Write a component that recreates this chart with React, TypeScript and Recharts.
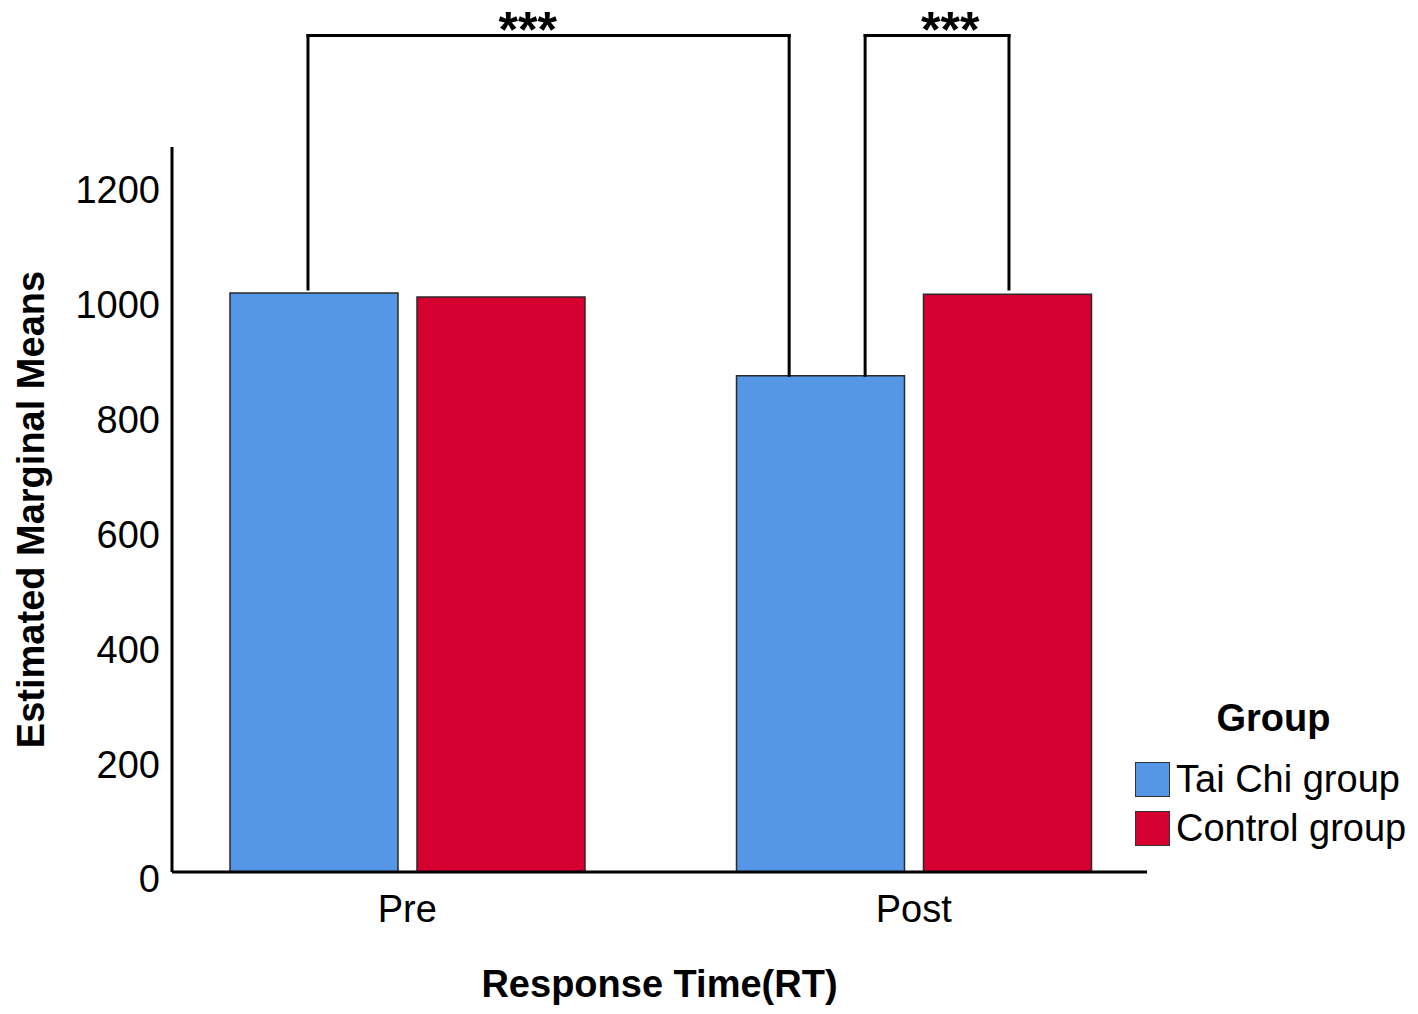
import { Bar, BarChart, Label, Legend, ReferenceDot, ReferenceLine, XAxis, YAxis } from "recharts";

const FONT = '"Liberation Sans", Arial, sans-serif';

const TIMES = ["Pre", "Post"];
const TAI_CHI = [1007, 863];
const CONTROL = [1000, 1005];
const Y_TICKS = [0, 200, 400, 600, 800, 1000, 1200];
const Y_MAX = 1261;

const SERIES = [
  { key: "taiChi", name: "Tai Chi group", color: "#5596E6" },
  { key: "control", name: "Control group", color: "#D5002F" },
];

// significance brackets; x runs 0..1 across both time points
const BRACKET_LEFT = [0.152, 0.702];
const BRACKET_RIGHT = [0.627, 0.844];
const BRACKET_LEFT_END = [1014, 864];
const BRACKET_RIGHT_END = [864, 1014];
const BRACKET_TOP = 1455;
const STAR_X = [0.369, 0.786];
const STARS = "***";

const data = TIMES.map((time, i) => ({ time, taiChi: TAI_CHI[i], control: CONTROL[i] }));

function GroupLegend({ payload }: any) {
  const items = [...(payload || [])].sort(
    (a: any, b: any) =>
      SERIES.findIndex((s) => s.name === a.value) - SERIES.findIndex((s) => s.name === b.value)
  );
  return (
    <div style={{ fontFamily: FONT, color: "#000" }}>
      <div style={{ fontWeight: "bold", fontSize: 38, lineHeight: "40px", textAlign: "center", paddingRight: 6 }}>
        Group
      </div>
      <div style={{ marginTop: 17 }}>
        {items.map((entry: any) => (
          <div key={entry.value} style={{ display: "flex", alignItems: "center", height: 49 }}>
            <span
              style={{
                display: "inline-block",
                width: 35,
                height: 35,
                boxSizing: "border-box",
                background: entry.color,
                border: "1.5px solid #333",
              }}
            />
            <span style={{ fontSize: 38, marginLeft: 6, whiteSpace: "nowrap" }}>{entry.value}</span>
          </div>
        ))}
      </div>
    </div>
  );
}

export default function App() {
  const pad = { left: -18, right: -20 };
  return (
    <div style={{ position: "absolute", left: 0, top: 0, fontFamily: FONT, background: "#fff" }}>
      <BarChart
        width={1418}
        height={1014}
        data={data}
        margin={{ top: 147, right: 271, bottom: 0, left: 0 }}
        barGap={19}
      >
        <XAxis
          dataKey="time"
          height={142}
          padding={pad}
          tickLine={false}
          tickSize={0}
          tickMargin={23}
          axisLine={{ stroke: "#000", strokeWidth: 3 }}
          tick={{ fill: "#000", fontSize: 38 }}
        >
          <Label
            value="Response Time(RT)"
            position="insideBottom"
            offset={17}
            style={{ fill: "#000", fontSize: 38, fontWeight: "bold" }}
          />
        </XAxis>
        <XAxis xAxisId="br" type="number" domain={[0, 1]} allowDataOverflow hide padding={pad} />
        <YAxis
          width={172}
          domain={[0, Y_MAX]}
          ticks={Y_TICKS}
          allowDataOverflow
          tickLine={false}
          tickSize={0}
          tickMargin={12}
          axisLine={{ stroke: "#000", strokeWidth: 3 }}
          tick={{ fill: "#000", fontSize: 38, dy: 7 }}
        >
          <Label
            value="Estimated Marginal Means"
            angle={-90}
            position="insideLeft"
            offset={31}
            style={{ fill: "#000", fontSize: 38, fontWeight: "bold", textAnchor: "middle" }}
          />
        </YAxis>
        {SERIES.map((s) => (
          <Bar
            key={s.key}
            dataKey={s.key}
            name={s.name}
            fill={s.color}
            stroke="#2a2a2a"
            strokeWidth={1.5}
            barSize={168}
            isAnimationActive={false}
          />
        ))}
        {BRACKET_LEFT.map((x1, i) => {
          const x2 = BRACKET_RIGHT[i];
          const line = { xAxisId: "br", stroke: "#000", strokeWidth: 3, strokeLinecap: "square" as const, ifOverflow: "visible" as const };
          return [
            <ReferenceLine key={`l${i}`} {...line} segment={[{ x: x1, y: BRACKET_LEFT_END[i] }, { x: x1, y: BRACKET_TOP }]} />,
            <ReferenceLine key={`t${i}`} {...line} segment={[{ x: x1, y: BRACKET_TOP }, { x: x2, y: BRACKET_TOP }]} />,
            <ReferenceLine key={`r${i}`} {...line} segment={[{ x: x2, y: BRACKET_TOP }, { x: x2, y: BRACKET_RIGHT_END[i] }]} />,
          ];
        })}
        {STAR_X.map((x, i) => (
          <ReferenceDot
            key={`s${i}`}
            xAxisId="br"
            x={x}
            y={BRACKET_TOP}
            r={0}
            ifOverflow="visible"
            shape={(p: any) => (
              <text x={p.cx} y={p.cy + 12} textAnchor="middle" fontSize={50} fontWeight="bold" fill="#000">
                {STARS}
              </text>
            )}
          />
        ))}
        <Legend
          layout="vertical"
          align="center"
          verticalAlign="middle"
          content={(props: any) => <GroupLegend {...props} />}
          wrapperStyle={{ left: 1135, top: 698, width: 283 }}
        />
      </BarChart>
    </div>
  );
}
